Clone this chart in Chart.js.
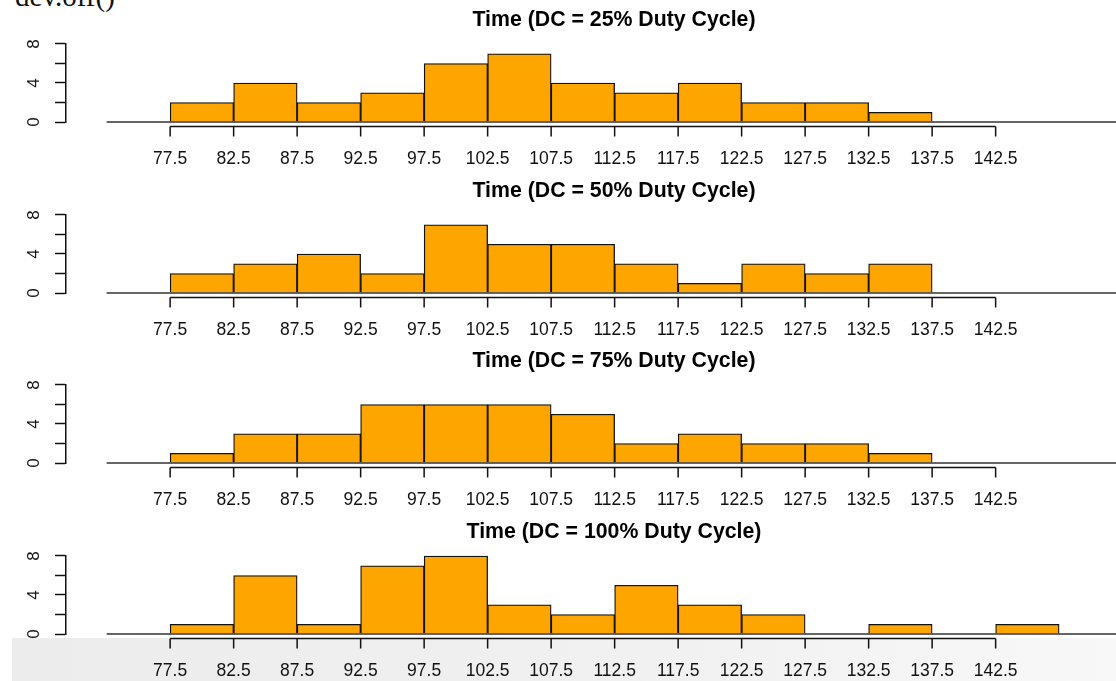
<!DOCTYPE html>
<html><head><meta charset="utf-8">
<script src="https://cdn.jsdelivr.net/npm/chart.js@4"></script>
<style>
html,body{margin:0;padding:0;background:#fff;overflow:hidden;width:1116px;height:681px;}
#wrap{position:relative;width:1116px;height:681px;overflow:hidden;background:#fff;}
.panel{position:absolute;left:0;width:1162px;height:170px;}
#shade{position:absolute;left:12px;top:638px;width:1104px;height:43px;background:linear-gradient(to right,#ececec,#f1f1f1 60%,#f8f8f8);}
#cmd{position:absolute;left:15px;top:-18px;font-family:'Liberation Serif','DejaVu Serif',serif;font-size:29px;line-height:29px;color:#111;white-space:nowrap;}
</style></head><body>
<div id="wrap">
<div id="shade"></div>
<div id="cmd">dev.off()</div>
<div class="panel" style="top:0px"><canvas id="c0" width="1162" height="170"></canvas></div>
<div class="panel" style="top:171px"><canvas id="c1" width="1162" height="170"></canvas></div>
<div class="panel" style="top:341px"><canvas id="c2" width="1162" height="170"></canvas></div>
<div class="panel" style="top:512px"><canvas id="c3" width="1162" height="170"></canvas></div>
</div>
<script>
// ---- data ----
const breaks = [77.5, 82.5, 87.5, 92.5, 97.5, 102.5, 107.5, 112.5, 117.5, 122.5, 127.5, 132.5, 137.5, 142.5, 147.5];
const binCenters = [80, 85, 90, 95, 100, 105, 110, 115, 120, 125, 130, 135, 140, 145];
const xTickValues = [77.5, 82.5, 87.5, 92.5, 97.5, 102.5, 107.5, 112.5, 117.5, 122.5, 127.5, 132.5, 137.5, 142.5];
const xTickLabels = ['77.5', '82.5', '87.5', '92.5', '97.5', '102.5', '107.5', '112.5', '117.5', '122.5', '127.5', '132.5', '137.5', '142.5'];
const yTickValues = [0, 2, 4, 6, 8];
const yTickLabels = ['0', '', '4', '', '8'];
const titles = ['Time (DC = 25% Duty Cycle)', 'Time (DC = 50% Duty Cycle)', 'Time (DC = 75% Duty Cycle)', 'Time (DC = 100% Duty Cycle)'];
const dc25  = [2, 4, 2, 3, 6, 7, 4, 3, 4, 2, 2, 1, 0, 0];
const dc50  = [2, 3, 4, 2, 7, 5, 5, 3, 1, 3, 2, 3, 0, 0];
const dc75  = [1, 3, 3, 6, 6, 6, 5, 2, 3, 2, 2, 1, 0, 0];
const dc100 = [1, 6, 1, 7, 8, 3, 2, 5, 3, 2, 0, 1, 0, 1];
const seriesList = [dc25, dc50, dc75, dc100];

// ---- layout / style ----
const X_MIN = 69.3, X_MAX = 155.6;
const binWidth = breaks[1] - breaks[0];
const FONT = "'Liberation Sans', Arial, Helvetica, sans-serif";
const INK = '#111';

const xAxisPlugin = {
  id: 'xAxisLine',
  afterDatasetsDraw(chart) {
    const sx = chart.scales.x, b = chart.chartArea.bottom, ctx = chart.ctx;
    const vals = sx.ticks.map(t => t.value);
    const x0 = sx.getPixelForValue(vals[0]);
    const x1 = sx.getPixelForValue(vals[vals.length - 1]);
    const ya = b + 4.5;
    ctx.save();
    ctx.strokeStyle = INK;
    ctx.lineWidth = 1.5;
    ctx.beginPath();
    ctx.moveTo(x0, ya); ctx.lineTo(x1, ya);
    vals.forEach(v => { const p = sx.getPixelForValue(v); ctx.moveTo(p, ya); ctx.lineTo(p, b + 14.5); });
    ctx.stroke();
    ctx.restore();
  }
};

seriesList.forEach((series, i) => {
  const ctx = document.getElementById('c' + i).getContext('2d');
  new Chart(ctx, {
    type: 'bar',
    data: {
      datasets: [
        {
          type: 'line',
          data: [{x: breaks[0] - binWidth, y: 0}, {x: X_MAX, y: 0}],
          borderColor: '#333',
          borderWidth: 1.5,
          pointRadius: 0,
          clip: false,
          order: 0
        },
        {
          type: 'bar',
          data: binCenters.map((c, k) => ({x: c, y: series[k]})),
          backgroundColor: '#FFA500',
          borderColor: INK,
          borderWidth: 1.3,
          barPercentage: 1,
          categoryPercentage: 1,
          clip: false,
          order: 1
        }
      ]
    },
    options: {
      responsive: false,
      animation: false,
      devicePixelRatio: 1,
      layout: {padding: 0},
      plugins: {
        legend: {display: false},
        tooltip: {enabled: false},
        title: {
          display: true,
          text: titles[i],
          fullSize: false,
          align: 'center',
          color: '#000',
          font: {family: FONT, size: 21.3, weight: 'bold'},
          padding: {top: 7.8, bottom: 10.6}
        }
      },
      scales: {
        x: {
          type: 'linear',
          offset: false,
          min: X_MIN,
          max: X_MAX,
          afterBuildTicks: s => { s.ticks = xTickValues.map(v => ({value: v})); },
          afterFit: s => { s.height = 48; },
          grid: {display: false, drawTicks: false, offset: false},
          border: {display: false},
          ticks: {
            autoSkip: false,
            maxRotation: 0,
            minRotation: 0,
            padding: 26.5,
            color: INK,
            font: {family: FONT, size: 17.5},
            callback: (v, idx) => xTickLabels[idx]
          }
        },
        y: {
          type: 'linear',
          min: 0,
          max: 8,
          afterBuildTicks: s => { s.ticks = yTickValues.map(v => ({value: v})); },
          afterFit: s => { s.width = 66; },
          grid: {display: true, drawOnChartArea: false, drawTicks: true, tickLength: 11, tickColor: INK, tickWidth: 1.5, color: INK},
          border: {display: true, color: INK, width: 1.5},
          ticks: {
            minRotation: 90,
            maxRotation: 90,
            crossAlign: 'center',
            padding: 16,
            color: INK,
            font: {family: FONT, size: 17},
            callback: (v, idx) => yTickLabels[idx]
          }
        }
      }
    },
    plugins: [xAxisPlugin]
  });
});
</script>
</body></html>
